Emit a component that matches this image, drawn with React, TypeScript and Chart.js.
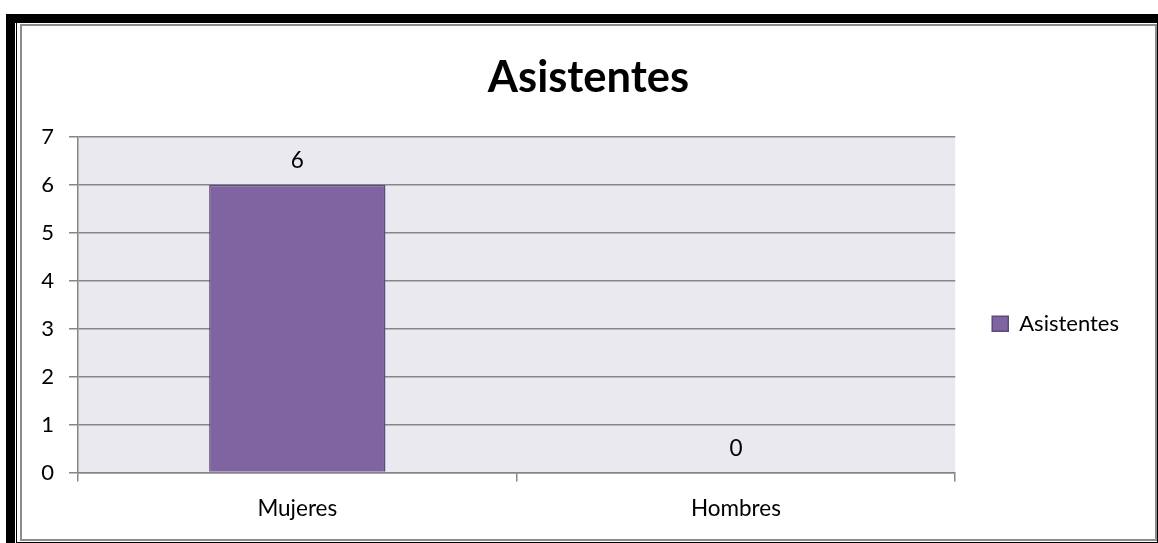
import React, { useEffect, useRef } from "react";
import { Chart, registerables } from "chart.js";

Chart.register(...registerables);

const chartTitle = "Asistentes";
const seriesName = "Asistentes";
const categories = ["Mujeres", "Hombres"];
const values = [6, 0];
const yTicks = [0, 1, 2, 3, 4, 5, 6, 7];

const FONT = "Lato, 'Open Sans', sans-serif";
const GRID = "#868686";

const plotBg = {
  id: "plotBg",
  beforeDraw(chart: any) {
    const { ctx, chartArea: a } = chart;
    ctx.save();
    ctx.fillStyle = "#ebe9f0";
    ctx.fillRect(a.left, a.top, a.right - a.left, a.bottom - a.top);
    ctx.restore();
  },
};

// centre the title over the whole chart box (not only the area left of the legend padding)
const titleSpan = {
  id: "titleSpan",
  afterLayout(chart: any) {
    const t = chart.titleBlock;
    if (t) {
      t.left = 0;
      t.right = chart.width;
    }
  },
};

const valueLabels = {
  id: "valueLabels",
  afterDatasetsDraw(chart: any) {
    const { ctx } = chart;
    const meta = chart.getDatasetMeta(0);
    ctx.save();
    ctx.font = `22.5px ${FONT}`;
    ctx.fillStyle = "#000";
    ctx.textAlign = "center";
    ctx.textBaseline = "alphabetic";
    meta.data.forEach((el: any, i: number) => {
      const v = chart.data.datasets[0].data[i];
      ctx.fillText(String(v), el.x, el.y - 17);
    });
    ctx.restore();
  },
};

export default function App() {
  const ref = useRef<HTMLCanvasElement | null>(null);

  useEffect(() => {
    if (!ref.current) return;
    const chart = new Chart(ref.current, {
      type: "bar",
      data: {
        labels: categories,
        datasets: [
          {
            label: seriesName,
            data: values,
            backgroundColor: "#8064a2",
            borderColor: "#5d4a7a",
            borderWidth: 1.5,
            categoryPercentage: 1,
            barPercentage: 0.402,
          },
        ],
      },
      options: {
        responsive: false,
        animation: false,
        layout: { padding: { left: 0, right: 26 } },
        plugins: {
          title: {
            display: true,
            text: chartTitle,
            color: "#000",
            font: { family: FONT, size: 43.5, weight: "bold", lineHeight: 1.2 },
            padding: { top: 25.5, bottom: 33.3 },
          },
          legend: {
            display: true,
            position: "right",
            fullSize: false,
            align: "center",
            title: { display: true, text: " ", font: { size: 10, lineHeight: 1.2 }, padding: 13 },
            labels: {
              boxWidth: 16,
              boxHeight: 15,
              padding: 37,
              color: "#000",
              font: { family: FONT, size: 22 },
            },
          },
          tooltip: { enabled: false },
        },
        scales: {
          x: {
            offset: true,
            grid: {
              display: true,
              drawOnChartArea: false,
              offset: true,
              color: GRID,
              lineWidth: 1.5,
              tickLength: 9,
            },
            border: { display: true, color: GRID, width: 1.5 },
            ticks: { color: "#000", font: { family: FONT, size: 22.5 }, padding: 14 },
            afterFit: (s: any) => {
              s.height = 66.5;
            },
          },
          y: {
            min: 0,
            max: 7,
            grid: { color: GRID, lineWidth: 1.5, tickLength: 9 },
            border: { display: true, color: GRID, width: 1.5 },
            ticks: { color: "#000", font: { family: FONT, size: 22 }, padding: 15, stepSize: 1 },
            afterBuildTicks: (s: any) => {
              s.ticks = yTicks.map((v) => ({ value: v }));
            },
            afterFit: (s: any) => {
              s.width = 56;
            },
          },
        },
      },
      plugins: [plotBg, titleSpan, valueLabels],
    });
    return () => chart.destroy();
  }, []);

  const abs = (l: number, t: number, w: number, h: number, extra: any = {}) => ({
    position: "absolute" as const,
    left: l,
    top: t,
    width: w,
    height: h,
    ...extra,
  });

  return (
    <div style={abs(0, 0, 1158, 543, { background: "#fff", overflow: "hidden" })}>
      <div style={abs(6, 14, 9, 529, { background: "#000" })} />
      <div style={abs(6, 14, 1152, 9, { background: "#000" })} />
      <div style={abs(16, 23, 1, 520, { background: "#000" })} />
      <div style={abs(16, 542, 1142, 1, { background: "#000" })} />
      <div style={abs(1157, 23, 1, 520, { background: "#000" })} />
      <div
        style={abs(20, 24, 1137, 517, {
          border: "2px solid #8c8c8c",
          boxSizing: "border-box",
          background: "#fff",
        })}
      />
      <canvas ref={ref} width={1133} height={513} style={abs(22, 26, 1133, 513)} />
    </div>
  );
}
